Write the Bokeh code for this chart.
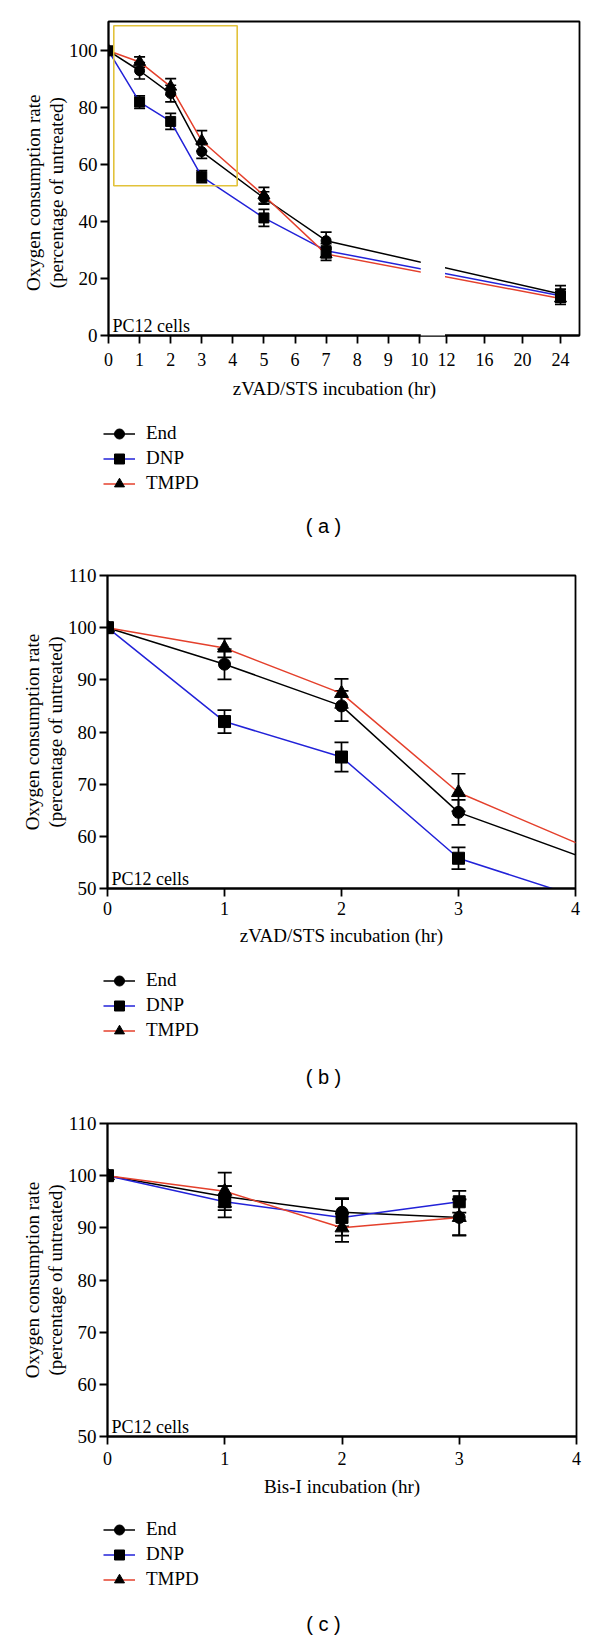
from bokeh.plotting import figure
from bokeh.models import (ColumnDataSource, Whisker, TeeHead, BoxAnnotation, Legend,
                          LegendItem, Label, FixedTicker, Range1d)
from bokeh.layouts import column
from bokeh.embed import file_html
from bokeh.resources import INLINE

# ---------------- data ----------------
# Panels (a) and (b): zVAD/STS incubation (hr)
hours_a = [0, 1, 2, 3, 5, 7, 24]
end_a = [100, 93.0, 85.0, 64.6, 48.3, 33.3, 14.6]
end_a_err = [0, 2.9, 2.9, 2.4, 2.2, 3.0, 2.9]
dnp_a = [100, 82.0, 75.2, 55.8, 41.3, 29.8, 14.0]
dnp_a_err = [0, 2.2, 2.8, 2.1, 3.0, 2.5, 2.3]
tmpd_a = [100, 96.1, 87.4, 68.4, 49.2, 28.6, 13.0]
tmpd_a_err = [0, 1.8, 2.8, 3.6, 2.8, 2.2, 2.1]

# Panel (c): Bis-I incubation (hr)
hours_c = [0, 1, 2, 3]
end_c = [100, 96.0, 93.0, 92.0]
end_c_err = [0, 2.0, 2.7, 3.4]
dnp_c = [100, 95.0, 92.0, 95.0]
dnp_c_err = [0, 3.0, 3.5, 2.1]
tmpd_c = [100, 97.0, 90.0, 92.0]
tmpd_c_err = [0, 3.6, 2.7, 3.5]

series_names = ["End", "DNP", "TMPD"]
xticks_a_low = [0, 1, 2, 3, 4, 5, 6, 7, 8, 9, 10]
xticks_a_high = [12, 16, 20, 24]
yticks_a = [0, 20, 40, 60, 80, 100]
xticks_bc = [0, 1, 2, 3, 4]
yticks_bc = [50, 60, 70, 80, 90, 100, 110]

# zoom box drawn on panel (a)
zoom_box = dict(left=0.17, right=4.14, bottom=52.6, top=108.8)

# ---------------- styling / axis break ----------------
SERIF = "Liberation Serif"
SANS = "Liberation Sans"
COLORS = {"End": "#000000", "DNP": "#2222d8", "TMPD": "#e4402c"}
MARKERS = {"End": "circle", "DNP": "square", "TMPD": "triangle"}
NB = "\u00a0"
NAN = float("nan")
W = 600
AX_W = 1.8

BREAK_LO = 10.0      # last hour drawn before the axis break
BREAK_HI = 12.0      # first hour after the break
U_HI = 10.87         # display position of 12 h
R_HI = 0.3058        # display units per hour after the break
X_END_A = 26.0


def to_disp(h):
    return h if h <= BREAK_LO else U_HI + (h - BREAK_HI) * R_HI


def style_axes(p, x_std, xlabel_std):
    for ax in (p.xaxis[0], p.yaxis[0]):
        ax.axis_line_width = AX_W
        ax.major_tick_line_width = AX_W
        ax.major_tick_in = 0
        ax.major_tick_out = 8
        ax.minor_tick_line_color = None
        ax.major_label_text_font = SERIF
        ax.major_label_text_color = "black"
        ax.axis_label_text_font = SERIF
        ax.axis_label_text_font_size = "19px"
        ax.axis_label_text_font_style = "normal"
        ax.axis_label_text_color = "black"
    p.xaxis[0].major_label_text_font_size = "18px"
    p.yaxis[0].major_label_text_font_size = "19px"
    p.xaxis[0].major_label_standoff = x_std
    p.xaxis[0].axis_label_standoff = xlabel_std
    p.yaxis[0].major_label_standoff = 3
    p.yaxis[0].axis_label_standoff = -1
    p.yaxis[0].axis_label_text_line_height = 1.1


def build(xs, data, errs, xr, yr, xticks, xover, yticks, xlabel, ylabel,
          height, btop, bleft, bright, frame_h, msize, capw, x_std, xlabel_std, y0):
    p = figure(width=W, height=height, x_range=xr, y_range=yr,
               output_backend="svg", toolbar_location=None, frame_align=False,
               min_border_top=btop, min_border_left=bleft, min_border_right=bright,
               min_border_bottom=height - btop - frame_h)
    p.grid.visible = False
    p.outline_line_color = "black"
    p.outline_line_width = AX_W
    p.outline_line_alpha = 1.0
    p.background_fill_color = "white"
    p.border_fill_color = "white"

    style_axes(p, x_std, xlabel_std)
    p.xaxis[0].ticker = FixedTicker(ticks=xticks)
    if xover:
        p.xaxis[0].major_label_overrides = xover
    p.yaxis[0].ticker = FixedTicker(ticks=yticks)
    p.xaxis[0].axis_label = xlabel
    p.yaxis[0].axis_label = ylabel

    srcs = {}
    for name in series_names:
        lo = [v - e for v, e in zip(data[name], errs[name])]
        hi = [v + e for v, e in zip(data[name], errs[name])]
        srcs[name] = ColumnDataSource(dict(x=xs, y=data[name], lo=lo, hi=hi))
        p.line("x", "y", source=srcs[name], line_color=COLORS[name], line_width=1.5)
    for name in series_names:
        s = msize + (2 if MARKERS[name] == "triangle" else 0)
        p.scatter("x", "y", source=srcs[name], marker=MARKERS[name], size=s,
                  fill_color="black", line_color="black")
        d = srcs[name].data
        keep = [i for i in range(len(d["x"]))
                if errs[name][i] > 0 and xr[0] <= d["x"][i] <= xr[1]]
        wsrc = ColumnDataSource(dict(x=[d["x"][i] for i in keep],
                                     lo=[d["lo"][i] for i in keep],
                                     hi=[d["hi"][i] for i in keep]))
        w = Whisker(source=wsrc, base="x", upper="hi", lower="lo", dimension="height",
                    line_color="black", line_width=1.7,
                    upper_head=TeeHead(size=capw, line_color="black", line_width=1.7),
                    lower_head=TeeHead(size=capw, line_color="black", line_width=1.7))
        p.add_layout(w)

    p.add_layout(Label(x=xr[0], y=y0, x_offset=4, y_offset=10, text="PC12 cells",
                       text_font=SERIF, text_font_size="18px",
                       text_baseline="alphabetic", text_color="black"))
    return p


def legend_fig(height, leg_top, caption, cap_y, glyph_x=103, cap_x=323):
    """Legend + panel caption, drawn in pixel units (y measured from the top)."""
    q = figure(width=W, height=height, x_range=Range1d(0, W), y_range=Range1d(height, 0),
               output_backend="svg", toolbar_location=None, frame_align=False,
               x_axis_location=None, y_axis_location=None,
               min_border_left=0, min_border_right=0, min_border_top=0,
               min_border_bottom=0)
    q.grid.visible = False
    q.outline_line_color = None
    items = []
    for name in series_names:
        # legend proxies: one undefined (NaN) point, never visible on the canvas
        src = ColumnDataSource(dict(x=[NAN], y=[NAN]))
        rl = q.line("x", "y", source=src, line_color=COLORS[name], line_width=1.6)
        rs = q.scatter("x", "y", source=src, marker=MARKERS[name], size=10,
                       fill_color="black", line_color="black")
        items.append(LegendItem(label=name, renderers=[rl, rs]))
    leg_h = 25 * len(series_names)
    leg = Legend(items=items, location=(glyph_x, height - leg_top - leg_h), margin=0,
                 padding=0, spacing=0, glyph_width=32, glyph_height=25, label_height=25,
                 label_standoff=11, label_text_font=SERIF, label_text_font_size="19px",
                 label_text_color="black",
                 border_line_color=None, background_fill_alpha=0)
    q.add_layout(leg)
    q.add_layout(Label(x=cap_x, y=cap_y, text=caption, text_align="center",
                       text_baseline="middle", text_font=SANS, text_font_size="20px",
                       text_color="black"))
    return q


# ---------- panel (a) ----------
xs_a = [to_disp(h) for h in hours_a]
xt_a = [float(t) for t in xticks_a_low] + [round(to_disp(t), 4) for t in xticks_a_high]
xover_a = {xt_a[i]: str(t) for i, t in enumerate(xticks_a_low + xticks_a_high)}
data_a = {"End": end_a, "DNP": dnp_a, "TMPD": tmpd_a}
errs_a = {"End": end_a_err, "DNP": dnp_a_err, "TMPD": tmpd_a_err}

ylabel_main = "Oxygen consumption rate\n(percentage of untreated)"
ylabel_a = "Oxygen consumption rate" + NB * 6 + "\n(percentage of untreated)" + NB * 6

pA = build(xs_a, data_a, errs_a, (0, to_disp(X_END_A)), (0, 110.3), xt_a, xover_a, yticks_a,
           "zVAD/STS incubation (hr)" + NB * 4, ylabel_a,
           height=410, btop=21, bleft=108, bright=21, frame_h=314, msize=10, capw=11,
           x_std=9, xlabel_std=9, y0=0)
pA.add_layout(BoxAnnotation(left=zoom_box["left"], right=zoom_box["right"],
                            bottom=zoom_box["bottom"], top=zoom_box["top"],
                            fill_alpha=0, line_color="#e2c23a", line_alpha=1.0,
                            line_width=1.6))
# white gap for the broken x axis
pA.add_layout(BoxAnnotation(left=BREAK_LO + 0.045, right=U_HI - 0.045, bottom=-4, top=100,
                            fill_color="white", fill_alpha=1, line_alpha=0))
lA = legend_fig(143, 10.5, "( a )", 115)

# ---------- panel (b) ----------
pB = build(hours_a, data_a, errs_a, (0, 4), (50, 110), xticks_bc, None, yticks_bc,
           "zVAD/STS incubation (hr)", ylabel_main,
           height=397, btop=22, bleft=107, bright=25, frame_h=313, msize=12, capw=14,
           x_std=5, xlabel_std=7, y0=50)
lB = legend_fig(151, 17.5, "( b )", 126)

# ---------- panel (c) ----------
data_c = {"End": end_c, "DNP": dnp_c, "TMPD": tmpd_c}
errs_c = {"End": end_c_err, "DNP": dnp_c_err, "TMPD": tmpd_c_err}
pC = build(hours_c, data_c, errs_c, (0, 4), (50, 110), xticks_bc, None, yticks_bc,
           "Bis-I incubation (hr)", ylabel_main,
           height=399, btop=22, bleft=107, bright=24, frame_h=313, msize=12, capw=14,
           x_std=7, xlabel_std=8, y0=50)
lC = legend_fig(141, 16.8, "( c )", 123)

layout = column(pA, lA, pB, lB, pC, lC, spacing=0)
open("out.html", "w").write(file_html(layout, INLINE))
